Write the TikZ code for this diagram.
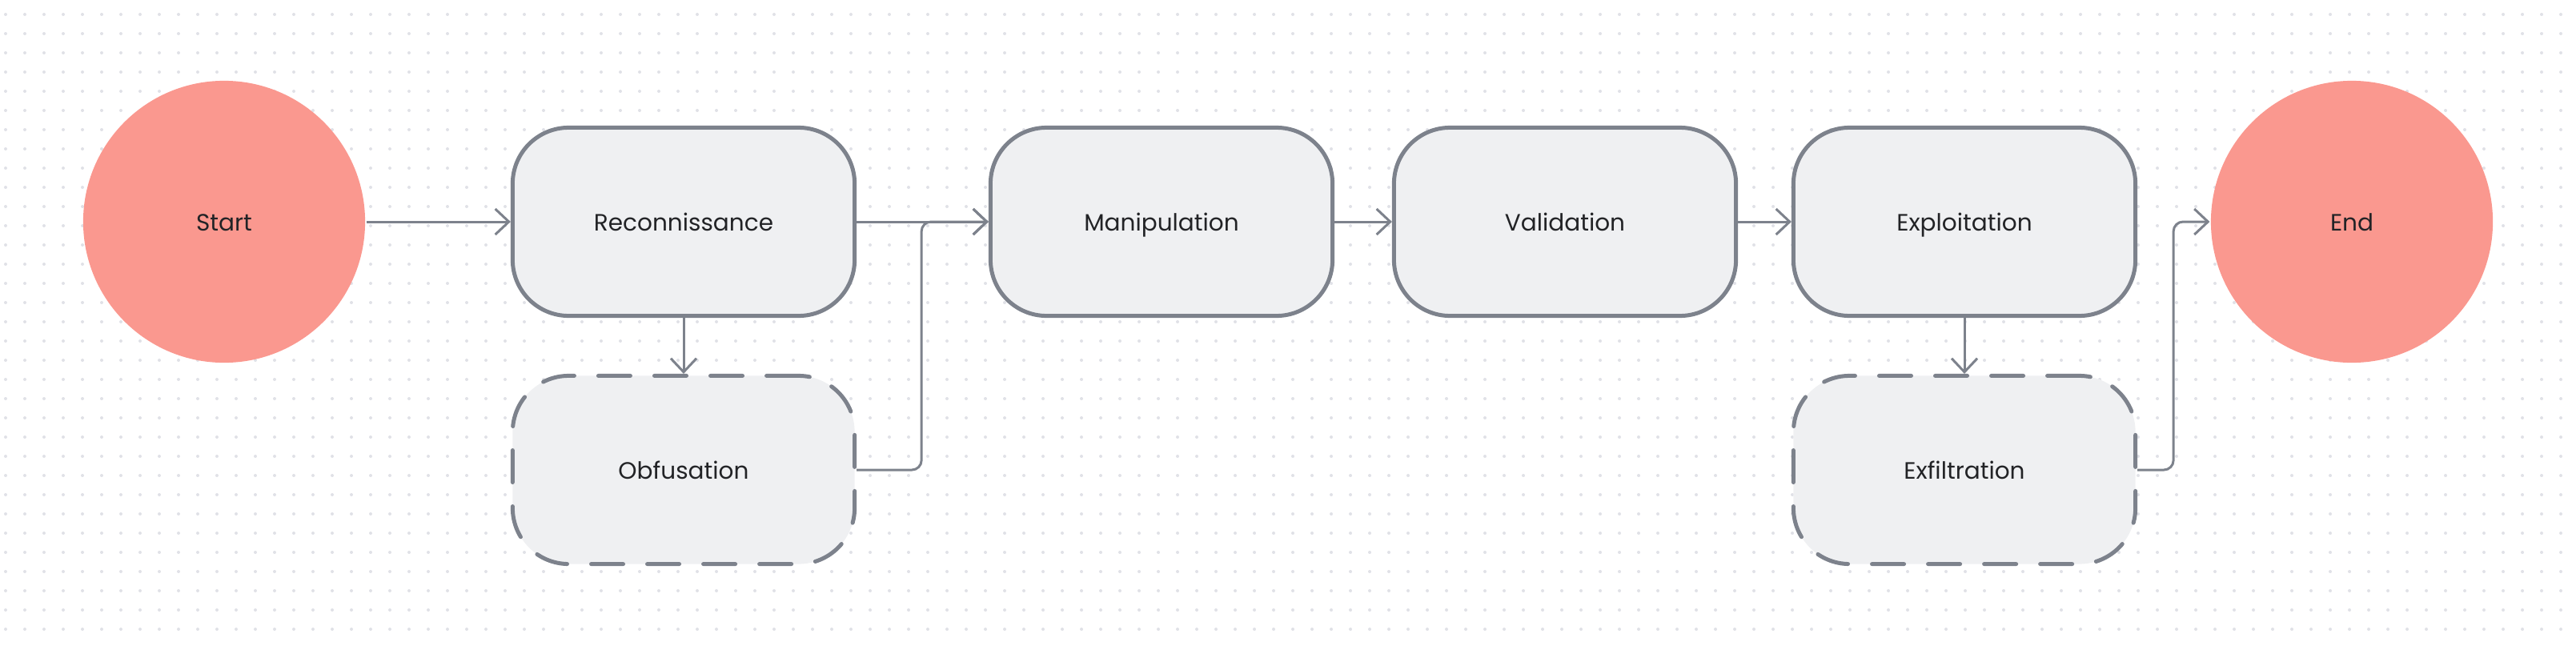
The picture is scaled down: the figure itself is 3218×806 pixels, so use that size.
\documentclass[tikz,border=0pt]{standalone}
\usepackage{fontspec}
\setmainfont{Poppins}
\usetikzlibrary{arrows.meta}

\definecolor{salmon}{HTML}{FA988F}
\definecolor{boxfill}{HTML}{EFF0F2}
\definecolor{edge}{HTML}{7D828C}
\definecolor{txt}{HTML}{222326}
\definecolor{dotgray}{HTML}{E0E1E7}

\begin{document}
\begin{tikzpicture}[
	>={Straight Barb[length=0.17cm,width=0.32cm]},
	line width=0.03cm,
	x=0.01cm,y=-0.01cm,
	font=\fontsize{8.4}{8.4}\selectfont,
	terminal/.style={circle, fill=salmon, minimum size=3.52cm, inner sep=0pt, text=txt,
		text height=1.6ex, text depth=0.45ex},
	stepbox/.style={draw=edge, fill=boxfill, line width=0.05cm, rounded corners=0.7cm,
		minimum width=4.27cm, minimum height=2.35cm, text=txt,
		text height=1.6ex, text depth=0.45ex},
	optbox/.style={stepbox, dash pattern=on 0.4cm off 0.3cm, line cap=round},
	link/.style={->, draw=edge, rounded corners=0.12cm}
	]
\useasboundingbox (0,0) rectangle (3218,806);

% begin grid
\foreach \x in {7,31,...,3218}
\foreach \y in {18,42,...,806}
\fill[dotgray] (\x,\y) circle (0.02cm);
% end grid

			\node[terminal] (start_280)   at (280, 277) {Start};
			\node[stepbox] (recon_854)   at (854, 277) {Reconnissance};
			\node[optbox] (obf_854)   at (854, 587) {Obfusation};
			\node[stepbox] (manip_1451)   at (1451, 277) {Manipulation};
			\node[stepbox] (valid_1955)   at (1955, 277) {Validation};
			\node[stepbox] (exploit_2454)   at (2454, 277) {Exploitation};
			\node[optbox] (exfil_2454)   at (2454, 587) {Exfiltration};
			\node[terminal] (stop_2938)   at (2938, 277) {End};

			\draw[link] (start_280) -- (recon_854);
			\draw[link] (recon_854) -- (obf_854);
			\draw[link] (recon_854) -- (manip_1451);
			\draw[link] (obf_854.east) -- ++(81,0) |- (manip_1451.west);
			\draw[link] (manip_1451) -- (valid_1955);
			\draw[link] (valid_1955) -- (exploit_2454);
			\draw[link] (exploit_2454) -- (exfil_2454);
			\draw[link] (exfil_2454.east) -- ++(45,0) |- (stop_2938.west);

\end{tikzpicture}
\end{document}
